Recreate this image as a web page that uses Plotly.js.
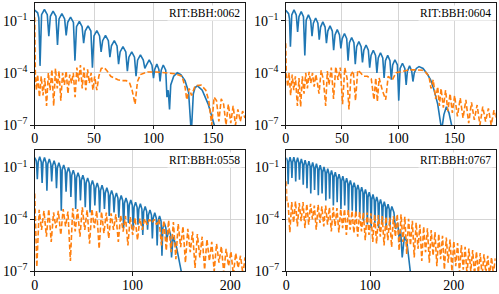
<!DOCTYPE html>
<html>
<head>
<meta charset="utf-8">
<script src="https://cdn.plot.ly/plotly-3.0.1.min.js"></script>
<style>html,body{margin:0;padding:0;background:#fff;}#chart{width:499px;height:294px;}</style>
</head>
<body>
<div id="chart"></div>
<script>
// ---- Data: [time, log10(amplitude)] ----
const labels = ["RIT:BBH:0062", "RIT:BBH:0604", "RIT:BBH:0558", "RIT:BBH:0767"];
const xMax = [177, 186.5, 215, 250];
const xTickStep = [50, 50, 100, 100];

const p1Blue = [[0,-0.40],[2.5,-0.55],[3.5,-0.85],[4.5,-3.6],
 [5.8,-0.66],[8.2,-0.36],[10.6,-0.66],[11.9,-1.9],
 [13.2,-0.75],[15.5,-0.45],[17.9,-0.75],[19.2,-2.4],
 [20.5,-0.9],[22.9,-0.6],[25.2,-0.9],[26.5,-1.85],
 [27.8,-1.1],[30.2,-0.8],[32.6,-1.1],[33.9,-3.3],
 [35.2,-1.35],[37.6,-1.05],[39.9,-1.35],[41.2,-2.3],
 [42.5,-1.6],[44.9,-1.3],[47.3,-1.6],[48.6,-3.7],
 [49.9,-1.88],[52.3,-1.58],[54.6,-1.88],[55.9,-2.8],
 [57.2,-2.15],[59.6,-1.85],[62.0,-2.15],[63.3,-3.1],
 [64.6,-2.45],[67.0,-2.15],[69.3,-2.45],[70.6,-3.5],
 [71.9,-2.8],[74.3,-2.5],[76.7,-2.8],[78.0,-3.9],
 [79.3,-3.1],[81.7,-2.8],[84.0,-3.1],[85.3,-4.2],
 [86.6,-3.27],[89.0,-2.97],[91.4,-3.27],[92.7,-3.75],
 [94.0,-3.56],[96.4,-3.26],[98.7,-3.56],[100.0,-4.3],
 [101.0,-3.8],[102.8,-3.5],[104.5,-3.8],[105.5,-4.5],
 [106.5,-3.85],[108.2,-3.55],[110.3,-3.85],[111.3,-5.4],
 [112.4,-5.0],[113.5,-6.1],
 [114.5,-4.7],[117,-4.2],[120,-4.0],[123,-4.1],[126.5,-4.45],[129.5,-5.1],[131.8,-7.5],
 [133.5,-5.2],[135,-4.85],[137,-4.75],[141,-5.0],[146,-5.8],[152,-7.2]];
const p1Orange = [[0,-0.8],[0.6,-4.2],[1.5,-5.0],[2.5,-4.1],[4,-5.4],[5.5,-4.2],[7,-5.3],[8.5,-4.3],[10,-5.9],[11.5,-4.0],
 [13,-5.0],[14.5,-3.8],[16,-5.9],[17.5,-3.75],[19,-4.9],[20.5,-3.9],[22,-5.6],[23.5,-4.0],[25,-4.7],[26.5,-3.9],
 [28,-5.2],[29.5,-4.1],[31,-4.6],[32.5,-4.0],[34,-5.4],[35.5,-3.7],[37,-4.5],[38.5,-3.55],[40,-4.9],[41.5,-3.7],
 [43,-5.0],[44.5,-3.8],[46,-4.6],[47.5,-4.0],[49,-5.0],[50.5,-4.2],[52.3,-5.0],[54,-4.2],[56,-3.75],[58.5,-3.7],
 [61,-3.9],[64,-4.2],[67,-4.3],[70,-4.4],[73,-4.45],[77,-4.45],[80,-4.6],[82,-5.0],[84.5,-5.8],[86.5,-4.5],
 [89,-4.1],[95,-3.95],[102,-3.95],[110,-4.0],[118,-4.05],[124,-4.2],[126.5,-4.8],[128,-5.55],[130,-4.9],[132,-5.3],
 [135,-4.75],[140,-4.7],[144,-5.0],[146.5,-5.6],[149,-7.0],[151,-5.4],[153,-5.6],[155,-6.8],[157,-5.5],[159,-5.8],
 [161,-7.0],[163,-5.8],[165,-6.9],[167,-5.9],[169,-7.0],[171,-6.1],[173,-6.8],[175,-6.2],[177,-6.6]];

const p2Blue = [[0,-0.40],[2.6,-0.6],[3.4,-0.9],[4.2,-2.5],
 [5.4,-0.68],[7.4,-0.38],[9.4,-0.68],[10.6,-1.65],
 [11.8,-0.78],[13.8,-0.48],[15.8,-0.78],[17.0,-3.0],
 [18.2,-0.97],[20.2,-0.67],[22.2,-0.97],[23.4,-1.9],
 [24.6,-1.15],[26.6,-0.85],[28.6,-1.15],[29.8,-2.1],
 [31.0,-1.37],[33.0,-1.07],[35.0,-1.37],[36.2,-2.3],
 [37.4,-1.6],[39.4,-1.3],[41.4,-1.6],[42.6,-2.7],
 [43.8,-1.82],[45.8,-1.52],[47.8,-1.82],[49.0,-2.6],
 [50.2,-2.04],[52.2,-1.74],[54.2,-2.04],[55.4,-3.3],
 [56.6,-2.27],[58.6,-1.97],[60.6,-2.27],[61.8,-3.5],
 [63.0,-2.5],[65.0,-2.2],[67.0,-2.5],[68.2,-3.4],
 [69.4,-2.7],[71.4,-2.4],[73.4,-2.7],[74.6,-3.7],
 [75.8,-3.0],[77.8,-2.7],[79.8,-3.0],[81.0,-4.0],
 [82.2,-3.15],[84.2,-2.85],[86.2,-3.15],[87.4,-4.3],
 [88.6,-3.3],[90.6,-3.0],[92.6,-3.3],[93.8,-4.4],
 [95.0,-3.55],[97.0,-3.25],[99.2,-3.55],[100.4,-5.6],
 [101.6,-3.75],[103.7,-3.45],[105.8,-3.75],[107.0,-4.7],
 [108.1,-3.9],[110.0,-3.6],[111.9,-3.9],[113.0,-4.5],
 [114.2,-4.0],[116.0,-3.75],[118.4,-3.64],[122.0,-3.75],[126.0,-4.1],[128.7,-4.4],[131.7,-4.98],[135.0,-5.8],[138.5,-7.3],
 [140.5,-6.4],[142.7,-5.95],[145.0,-6.3],[148.0,-7.2]];
const p2Orange = [[0,-2.3],[0.5,-4.0],[1.8,-4.8],[3.0,-4.0],[4.4,-5.3],[5.8,-4.1],[7.2,-5.0],[8.6,-4.2],[10.4,-5.9],[11.8,-4.3],
 [13.3,-5.95],[14.8,-4.2],[16.3,-5.2],[17.8,-4.0],[19.3,-4.9],[20.8,-3.95],[22.3,-4.6],[23.8,-4.0],[25.3,-4.8],[26.8,-4.1],
 [28.2,-4.6],[29.6,-5.2],[31.5,-3.85],[33.5,-4.4],[35.5,-5.9],[37.0,-3.9],[38.5,-4.7],[40.5,-3.7],[42.5,-5.5],[44.5,-3.65],
 [46.5,-4.4],[48.5,-3.7],[50.5,-5.8],[52.5,-3.7],[54.5,-4.3],[56.2,-6.1],[58.0,-4.1],[60.0,-3.9],[62.0,-5.6],[64.0,-3.85],
 [66.5,-4.0],[69.0,-4.2],[72.5,-4.2],[76.0,-4.35],[78.4,-5.55],[80.0,-4.3],[81.4,-5.65],[83.0,-4.3],[85.8,-5.0],[88.8,-5.55],
 [91.0,-4.2],[94.7,-4.4],[98.0,-4.0],[103.6,-3.9],[108.0,-3.85],[112.5,-3.82],[117.0,-3.82],[121.4,-3.85],[124.0,-3.95],[127.3,-4.2],
 [129.0,-4.9],[131.0,-4.4],[133.2,-5.5],[135.0,-4.8],[136.5,-5.9],[138.0,-4.9],[140.0,-6.0],[142.0,-5.0],[144.0,-6.2],[146.0,-5.2],
 [148.0,-6.3],[150.0,-5.3],[152.5,-6.5],[155.0,-5.45],[157.5,-6.6],[160.0,-5.55],[162.5,-6.9],[165.0,-5.7],[167.5,-6.7],[170.0,-5.85],
 [172.5,-7.0],[175.0,-5.95],[177.5,-6.8],[180.0,-6.05],[182.5,-7.0],[185.0,-6.15],[187.0,-6.6]];

const p3Blue = [[0,-0.43],[1.5,-0.6],[2.0,-0.85],[2.7,-1.67],
 [3.6,-0.68],[5.15,-0.38],[6.7,-0.68],[7.6,-1.9],
 [8.5,-0.72],[10.05,-0.42],[11.6,-0.72],[12.5,-2.34],
 [13.4,-0.8],[14.95,-0.5],[16.5,-0.8],[17.4,-1.8],
 [18.3,-0.9],[19.85,-0.6],[21.4,-0.9],[22.3,-2.2],
 [23.2,-1.02],[24.75,-0.72],[26.3,-1.02],[27.2,-3.5],
 [28.1,-1.15],[29.65,-0.85],[31.2,-1.15],[32.1,-2.4],
 [33.0,-1.3],[34.55,-1.0],[36.1,-1.3],[37.0,-2.7],
 [37.9,-1.45],[39.45,-1.15],[41.0,-1.45],[41.9,-3.4],
 [42.8,-1.6],[44.35,-1.3],[45.9,-1.6],[46.8,-2.9],
 [47.7,-1.75],[49.25,-1.45],[50.8,-1.75],[51.7,-3.3],
 [52.6,-1.9],[54.15,-1.6],[55.7,-1.9],[56.6,-3.6],
 [57.5,-2.05],[59.05,-1.75],[60.6,-2.05],[61.5,-3.2],
 [62.4,-2.2],[63.95,-1.9],[65.5,-2.2],[66.4,-3.6],
 [67.3,-2.33],[68.85,-2.03],[70.4,-2.33],[71.3,-3.4],
 [72.2,-2.47],[73.75,-2.17],[75.3,-2.47],[76.2,-3.8],
 [77.1,-2.62],[78.65,-2.32],[80.2,-2.62],[81.1,-3.6],
 [82.0,-2.77],[83.55,-2.47],[85.1,-2.77],[86.0,-3.9],
 [86.9,-2.92],[88.45,-2.62],[90.0,-2.92],[90.9,-4.5],
 [91.8,-3.06],[93.35,-2.76],[94.9,-3.06],[95.8,-4.2],
 [96.7,-3.18],[98.25,-2.88],[99.8,-3.18],[100.7,-4.6],
 [101.6,-3.3],[103.15,-3.0],[104.7,-3.3],[105.6,-4.3],
 [106.5,-3.4],[108.05,-3.1],[109.6,-3.4],[110.5,-4.9],
 [111.4,-3.55],[112.95,-3.25],[114.5,-3.55],[115.4,-4.6],
 [116.3,-3.75],[117.85,-3.45],[119.4,-3.75],[120.3,-5.1],
 [121.2,-3.92],[122.75,-3.62],[124.3,-3.92],[125.2,-5.5],
 [126.1,-4.1],[127.65,-3.8],[129.2,-4.1],[130.1,-6.1],
 [131.0,-4.5],[132.55,-4.2],[134.1,-4.5],[135.0,-5.2],
 [135.9,-4.9],[137.45,-4.6],[139.0,-4.9],[139.9,-6.2],
 [141.5,-5.0],[145,-5.6],[150.5,-7.2]];
const p3Orange = [[0,-2.5],[0.6,-3.5],[2.2,-6.75],[4.6,-3.45],[7.0,-4.6],[9.5,-3.5],[12.0,-5.0],[14.4,-3.4],[16.9,-5.3],[19.3,-3.6],
 [21.8,-4.5],[24.2,-3.5],[26.7,-4.9],[29.1,-3.4],[31.6,-4.4],[34.0,-3.55],[36.5,-6.4],[38.9,-3.35],[41.4,-4.7],[43.8,-3.4],
 [46.3,-5.0],[48.7,-3.3],[51.2,-4.6],[53.6,-3.45],[56.1,-5.4],[58.5,-3.4],[61.0,-4.5],[63.4,-3.5],[65.9,-5.7],[68.3,-3.55],
 [70.8,-4.8],[73.2,-3.6],[75.7,-5.1],[78.1,-3.65],[80.6,-4.6],[83.0,-3.7],[85.5,-5.3],[87.9,-3.75],[90.4,-4.7],[92.8,-3.8],
 [95.3,-5.5],[97.7,-3.85],[100.2,-4.9],[102.6,-3.9],[105.1,-5.2],[107.5,-3.95],[110.0,-4.6],[112.4,-3.95],[114.9,-4.3],[117.3,-4.0],
 [119.8,-4.2],[122.2,-4.0],[124.7,-4.3],[127.1,-4.0],[129.6,-5.5],[132.0,-4.05],[134.5,-5.8],[136.9,-4.05],[139.4,-5.9],[141.8,-4.15],
 [144.3,-6.3],[146.7,-4.25],[149.2,-5.6],[151.6,-4.4],[154.1,-6.5],[156.5,-4.55],[159.0,-5.9],[161.4,-4.7],[163.9,-6.8],[166.3,-4.85],
 [168.8,-6.2],[171.2,-5.0],[173.7,-6.9],[176.1,-5.15],[178.6,-6.4],[181.0,-5.3],[183.5,-7.0],[185.9,-5.4],[188.4,-6.5],[190.8,-5.55],
 [193.3,-7.1],[195.7,-5.7],[198.2,-6.7],[200.6,-5.85],[203.1,-7.2],[205.5,-5.95],[208.0,-6.8],[210.4,-6.1],[212.9,-7.2],[215.0,-6.2]];

const p4Blue = [[0,-0.43],[1.2,-0.6],[1.6,-0.85],[2.25,-1.96],
 [3.05,-0.7],[4.5,-0.4],[5.95,-0.7],[6.75,-1.6],
 [7.55,-0.7],[9.0,-0.4],[10.45,-0.7],[11.25,-1.8],
 [12.05,-0.73],[13.5,-0.43],[14.95,-0.73],[15.75,-1.7],
 [16.55,-0.8],[18.0,-0.5],[19.45,-0.8],[20.25,-2.0],
 [21.05,-0.87],[22.5,-0.57],[23.95,-0.87],[24.75,-2.2],
 [25.55,-0.93],[27.0,-0.63],[28.45,-0.93],[29.25,-2.5],
 [30.05,-1.0],[31.5,-0.7],[32.95,-1.0],[33.75,-2.3],
 [34.55,-1.08],[36.0,-0.78],[37.45,-1.08],[38.25,-2.6],
 [39.05,-1.17],[40.5,-0.87],[41.95,-1.17],[42.75,-2.5],
 [43.55,-1.27],[45.0,-0.97],[46.45,-1.27],[47.25,-2.9],
 [48.05,-1.37],[49.5,-1.07],[50.95,-1.37],[51.75,-2.8],
 [52.55,-1.47],[54.0,-1.17],[55.45,-1.47],[56.25,-3.2],
 [57.05,-1.57],[58.5,-1.27],[59.95,-1.57],[60.75,-3.0],
 [61.55,-1.68],[63.0,-1.38],[64.45,-1.68],[65.25,-3.4],
 [66.05,-1.8],[67.5,-1.5],[68.95,-1.8],[69.75,-3.2],
 [70.55,-1.92],[72.0,-1.62],[73.45,-1.92],[74.25,-3.6],
 [75.05,-2.04],[76.5,-1.74],[77.95,-2.04],[78.75,-3.5],
 [79.55,-2.17],[81.0,-1.87],[82.45,-2.17],[83.25,-3.8],
 [84.05,-2.3],[85.5,-2.0],[86.95,-2.3],[87.75,-3.7],
 [88.55,-2.43],[90.0,-2.13],[91.45,-2.43],[92.25,-4.1],
 [93.05,-2.57],[94.5,-2.27],[95.95,-2.57],[96.75,-4.3],
 [97.55,-2.72],[99.0,-2.42],[100.45,-2.72],[101.25,-4.5],
 [102.05,-2.86],[103.5,-2.56],[104.95,-2.86],[105.75,-4.2],
 [106.55,-3.0],[108.0,-2.7],[109.45,-3.0],[110.25,-4.5],
 [111.05,-3.14],[112.5,-2.84],[113.95,-3.14],[114.75,-4.3],
 [115.55,-3.28],[117.0,-2.98],[118.45,-3.28],[119.25,-4.6],
 [120.05,-3.42],[121.5,-3.12],[122.95,-3.42],[123.75,-4.4],
 [124.6,-3.55],[126.0,-3.25],[128.5,-3.6],[130.4,-4.55],[133.0,-4.2],[135.2,-5.3],[136.5,-4.6],[138.4,-6.2],
 [141.0,-5.0],[144.0,-5.3],[148.5,-7.2]];
const p4Orange = [[0,-1.8],[0.5,-2.9],[2.0,-2.9],[4.25,-4.75],[6.5,-3.0],[8.75,-4.2],[11.0,-2.95],[13.25,-4.4],[15.5,-3.05],[17.75,-4.1],
 [20.0,-3.0],[22.25,-4.5],[24.5,-3.1],[26.75,-4.3],[29.0,-3.1],[31.25,-4.0],[33.5,-3.2],[35.75,-4.6],[38.0,-3.15],[40.25,-4.2],
 [42.5,-3.25],[44.75,-4.4],[47.0,-3.2],[49.25,-4.3],[51.5,-3.3],[53.75,-4.7],[56.0,-3.3],[58.25,-4.4],[60.5,-3.35],[62.75,-4.75],
 [65.0,-3.4],[67.25,-4.5],[69.5,-3.4],[71.75,-4.9],[74.0,-3.45],[76.25,-4.6],[78.5,-3.5],[80.75,-4.8],[83.0,-3.5],[85.25,-5.0],
 [87.5,-3.55],[89.75,-4.7],[92.0,-3.6],[94.25,-5.2],[96.5,-3.6],[98.75,-4.9],[101.0,-3.65],[103.25,-5.3],[105.5,-3.7],[107.75,-5.4],
 [110.0,-3.75],[112.25,-5.0],[114.5,-3.8],[116.75,-5.5],[119.0,-3.85],[121.25,-5.2],[123.5,-3.9],[125.75,-5.6],[128.0,-3.8],[130.25,-5.0],
 [132.5,-3.7],[134.75,-5.8],[137.0,-3.7],[139.25,-5.3],[141.5,-3.85],[143.75,-6.0],[146.0,-3.97],[148.25,-5.5],[150.5,-4.08],[152.75,-6.2],
 [155.0,-4.18],[157.25,-5.7],[159.5,-4.3],[161.75,-6.4],[164.0,-4.41],[166.25,-5.9],[168.5,-4.52],[170.75,-6.5],[173.0,-4.62],[175.25,-6.1],
 [177.5,-4.73],[179.75,-6.7],[182.0,-4.84],[184.25,-6.3],[186.5,-4.95],[188.75,-6.9],[191.0,-5.05],[193.25,-6.5],[195.5,-5.16],[197.75,-7.0],
 [200.0,-5.26],[202.25,-6.7],[204.5,-5.37],[206.75,-7.1],[209.0,-5.48],[211.25,-6.9],[213.5,-5.59],[215.75,-7.2],[218.0,-5.68],[220.25,-7.0],
 [222.5,-5.77],[224.75,-7.2],[227.0,-5.86],[229.25,-7.1],[231.5,-5.94],[233.75,-7.3],[236.0,-6.02],[238.25,-7.1],[240.5,-6.1],[242.75,-7.3],
 [245.0,-6.18],[247.25,-7.2],[249.5,-6.25]];

const blueSeries = [p1Blue, p2Blue, p3Blue, p4Blue];
const orangeSeries = [p1Orange, p2Orange, p3Orange, p4Orange];

const yTickVals = [1e-7, 1e-4, 1e-1];
const yTickText = ["10<sup>−7</sup>", "10<sup>−4</sup>", "10<sup>−1</sup>"];

// ---- Layout ----
const xDomains = [[0.0695, 0.491], [0.5725, 0.9934], [0.0695, 0.491], [0.5737, 0.9934]];
const yDomains = [[0.5748, 0.9908], [0.5748, 0.9908], [0.0772, 0.4908], [0.0772, 0.4908]];
const serif = "Liberation Serif, Times New Roman, serif";
const tickFont = {family: serif, size: 14, color: "#000"};

const traces = [];
const layout = {
  width: 499, height: 294,
  margin: {l: 0, r: 0, t: 0, b: 0},
  paper_bgcolor: "#fff", plot_bgcolor: "#fff",
  showlegend: false,
  annotations: []
};
const xs = pairs => pairs.map(p => p[0]);
const ys = pairs => pairs.map(p => Math.pow(10, p[1]));

for (let i = 0; i < 4; i++) {
  const n = i + 1;
  const xa = n === 1 ? "x" : "x" + n;
  const ya = n === 1 ? "y" : "y" + n;
  traces.push({x: xs(blueSeries[i]), y: ys(blueSeries[i]), xaxis: xa, yaxis: ya, mode: "lines",
    line: {color: "#1f77b4", width: 1.6}, hoverinfo: "skip"});
  traces.push({x: xs(orangeSeries[i]), y: ys(orangeSeries[i]), xaxis: xa, yaxis: ya, mode: "lines",
    line: {color: "#ff7f0e", width: 1.6, dash: "5px,2.5px"}, hoverinfo: "skip"});
  const axCommon = {showline: true, mirror: true, linecolor: "#000", linewidth: 0.9,
    showgrid: true, gridcolor: "#d0d0d0", gridwidth: 0.9, zeroline: false,
    ticks: "outside", ticklen: 3.5, tickwidth: 0.9, tickcolor: "#000", tickfont: tickFont};
  layout["xaxis" + (n === 1 ? "" : n)] = Object.assign({}, axCommon, {
    domain: xDomains[i], anchor: ya, range: [0, xMax[i]], tick0: 0, dtick: xTickStep[i],
    ticklabelstandoff: -3});
  layout["yaxis" + (n === 1 ? "" : n)] = Object.assign({}, axCommon, {
    domain: yDomains[i], anchor: xa, type: "log", range: [-7, 0.03],
    tickvals: yTickVals, ticktext: yTickText});
  layout.annotations.push({text: labels[i], xref: xa + " domain", yref: ya + " domain",
    x: 1, y: 1, xanchor: "right", yanchor: "top", xshift: -3, yshift: -2,
    showarrow: false, bgcolor: "#fff", borderpad: 1,
    font: {family: serif, size: 11.5, color: "#000"}});
}

Plotly.newPlot("chart", traces, layout, {staticPlot: true, displayModeBar: false});
</script>
</body>
</html>
